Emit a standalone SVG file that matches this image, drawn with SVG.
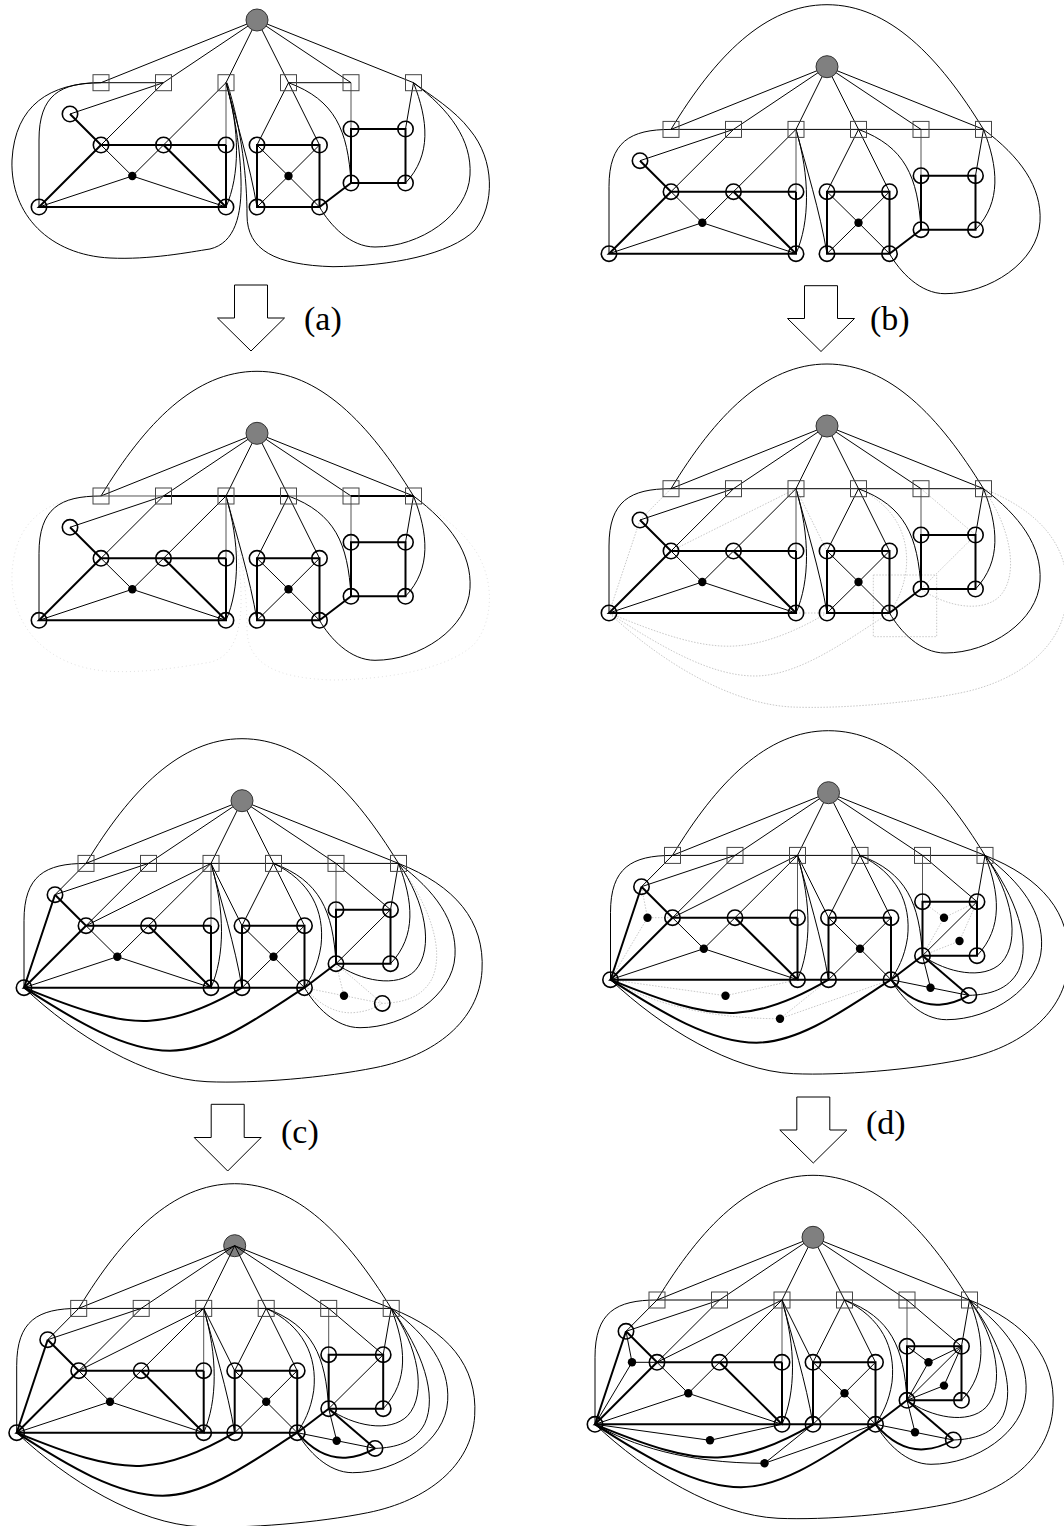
<svg xmlns="http://www.w3.org/2000/svg" xmlns:xlink="http://www.w3.org/1999/xlink" width="1064" height="1526" viewBox="0 0 1064 1526">
<style>
.t{stroke:#000;stroke-width:1;fill:none}
.k{stroke:#000;stroke-width:2;fill:none}
.gr{stroke:#555;stroke-width:1;fill:none}
.d{stroke:#c8c8c8;stroke-width:1;fill:none;stroke-dasharray:1.5 1.5}
.f{stroke:#e2e2e2;stroke-width:1;fill:none;stroke-dasharray:1 3}
.o{fill:none;stroke:#000;stroke-width:1.6}
.b{fill:#000;stroke:none}
.s{fill:none;stroke:#444;stroke-width:1}
.r{fill:#808080;stroke:#333;stroke-width:1}
.arw{fill:#fff;stroke:#000;stroke-width:1}
.lbl{font-family:"Liberation Serif","Times New Roman",serif;font-size:34px;fill:#000}
</style>
<defs>
<g id="eBt">
<path class="t" d="M257,20 L101,82.7 M257,20 L163.5,82.7 M257,20 L226,82.7 M257,20 L288.5,82.7 M257,20 L351,82.7 M257,20 L413.5,82.7"/>
<path class="t" d="M163.5,82.7 L70,114 M163.5,82.7 L101,145 M226,82.7 L163.5,145 M288.5,82.7 L257,145 M288.5,82.7 L319.5,145 M413.5,82.7 L405.5,129"/>
<path class="t" d="M226,82.7 C240,130 240,175 226,207"/>
<path class="t" d="M226,82.7 C236,120 250,165 257,207"/>
<path class="t" d="M288.5,82.7 C335,100 348,130 351,183"/>
<path class="t" d="M413.5,82.7 C428,120 432,155 405.5,183"/>
<path class="t" d="M413.5,82.7 C450,110 472,140 470,175 C468,215 420,247 375,247 C350,247 330,225 319.5,207"/>
<path class="t" d="M101,82.7 C60,82.7 39,95 39,140 L39,207"/>
<path class="t" d="M101,145 L132.3,176 L163.5,145 M39,207 L132.3,176 L226,207 M257,145 L288.5,176 L319.5,145 M257,207 L288.5,176 L319.5,207"/>
<path class="gr" d="M226,82.7 L226,145 M351,82.7 L351,129"/>
</g>
<g id="eBk">
<path class="k" d="M70,114 L101,145 L226,145 M101,145 L39,207 L226,207 L226,145 M163.5,145 L226,207"/>
<path class="k" d="M257,145 L319.5,145 L319.5,207 L257,207 Z M351,129 L405.5,129 L405.5,183 L351,183 Z M319.5,207 L351,183"/>
</g>
<path id="row" class="t" d="M101,82.7 L413.5,82.7"/>
<path id="arc" class="t" d="M101,82.7 C145,10 195,-42 257,-42 C319,-42 369,10 413.5,82.7"/>
<g id="loops">
<path d="M101,82.7 C50,83 15,105 12,160 C10,215 50,255 110,258 C150,260 190,252 210,249 C235,243 242,215 241,180 C240,140 232,105 226,82.7"/>
<path d="M227,82.7 C242,130 247,180 247,215 C247,250 275,265 333,266.7 C390,266 450,255 475,230 C495,205 495,160 470,130 C455,110 430,95 413.5,82.7"/>
</g>
<g id="e5t">
<path d="M70,114 L101,82.7 M226,82.7 L101,145 M226,82.7 L257,145 M351,82.7 L405.5,129 M405.5,129 L351,183"/>
<path d="M288.5,82.7 C325,100 340,130 336,165 C333,185 326,197 319.5,207"/>
<path d="M413.5,82.7 C440,120 450,168 430,190 C412,208 375,200 351,183"/>
<path d="M413.5,82.7 C470,105 500,140 497,190 C494,240 450,275 390,287 C340,297 270,303 222,301 C160,298 90,255 39,207"/>
</g>
<g id="e5k">
<path d="M70,114 L39,207 M226,207 L257,207"/>
<path d="M39,207 C90,228 130,242 165,240 C200,238 235,220 257,207"/>
<path d="M39,207 C90,240 140,270 185,270 C230,270 280,232 319.5,207"/>
</g>
<g id="e7t">
<path d="M351,183 L359,215 M319.5,207 L359,215 L397.3,222.7"/>
<path d="M413.5,82.7 C445,125 460,170 447,198 C437,217 418,222 397.3,222.7"/>
</g>
<g id="e7k">
<path d="M351,183 L397.3,222.7"/>
<path d="M319.5,207 C335,225 352,233 368,232 C382,231 390,227 397.3,222.7"/>
</g>
<g id="e8t">
<path d="M70,114 L76,145 L101,145 M39,207 L76,145"/>
<path d="M351,129 L372.5,145 L405.5,129 M372.5,145 L351,183 M351,183 L388,168.3 L405.5,129"/>
<path d="M39,207 L154,223 L226,207"/>
<path d="M39,207 C75,228 130,246 208.5,246 M208.5,246 L257,207 M208.5,246 L319.5,207"/>
</g>
</defs>
<rect width="1064" height="1526" fill="#fff"/>

<!-- Panel 1 -->
<g id="panel1" transform="translate(0,0)">
<g id="p1-connectors">
<use href="#eBt"/><use href="#eBk"/>
<path class="t" d="M101,82.7 L163.5,82.7 M288.5,82.7 L351,82.7"/>
<use href="#loops" class="t"/>
</g>
<g id="p1-nodes">
<g id="p1-R"><circle class="r" cx="257" cy="20" r="11"/></g>
<g id="p1-S1"><rect class="s" x="93" y="74.7" width="16" height="16"/></g>
<g id="p1-S2"><rect class="s" x="155.5" y="74.7" width="16" height="16"/></g>
<g id="p1-S3"><rect class="s" x="218" y="74.7" width="16" height="16"/></g>
<g id="p1-S4"><rect class="s" x="280.5" y="74.7" width="16" height="16"/></g>
<g id="p1-S5"><rect class="s" x="343" y="74.7" width="16" height="16"/></g>
<g id="p1-S6"><rect class="s" x="405.5" y="74.7" width="16" height="16"/></g>
<g id="p1-A"><circle class="o" cx="70" cy="114" r="7.7"/></g>
<g id="p1-B"><circle class="o" cx="101" cy="145" r="7.7"/></g>
<g id="p1-C"><circle class="o" cx="163.5" cy="145" r="7.7"/></g>
<g id="p1-D"><circle class="o" cx="226" cy="145" r="7.7"/></g>
<g id="p1-E"><circle class="o" cx="257" cy="145" r="7.7"/></g>
<g id="p1-F"><circle class="o" cx="319.5" cy="145" r="7.7"/></g>
<g id="p1-G"><circle class="o" cx="351" cy="129" r="7.7"/></g>
<g id="p1-H"><circle class="o" cx="405.5" cy="129" r="7.7"/></g>
<g id="p1-I"><circle class="o" cx="351" cy="183" r="7.7"/></g>
<g id="p1-J"><circle class="o" cx="405.5" cy="183" r="7.7"/></g>
<g id="p1-K"><circle class="o" cx="39" cy="207" r="7.7"/></g>
<g id="p1-L"><circle class="o" cx="226" cy="207" r="7.7"/></g>
<g id="p1-M"><circle class="o" cx="257" cy="207" r="7.7"/></g>
<g id="p1-N"><circle class="o" cx="319.5" cy="207" r="7.7"/></g>
<g id="p1-P1"><circle class="b" cx="132.3" cy="176" r="4.2"/></g>
<g id="p1-P2"><circle class="b" cx="288.5" cy="176" r="4.2"/></g>
</g>
</g>

<!-- Panel 2 -->
<g id="panel2" transform="translate(570,46.7)">
<g id="p2-connectors">
<use href="#eBt"/><use href="#eBk"/><use href="#row"/><use href="#arc"/>
</g>
<g id="p2-nodes">
<g id="p2-R"><circle class="r" cx="257" cy="20" r="11"/></g>
<g id="p2-S1"><rect class="s" x="93" y="74.7" width="16" height="16"/></g>
<g id="p2-S2"><rect class="s" x="155.5" y="74.7" width="16" height="16"/></g>
<g id="p2-S3"><rect class="s" x="218" y="74.7" width="16" height="16"/></g>
<g id="p2-S4"><rect class="s" x="280.5" y="74.7" width="16" height="16"/></g>
<g id="p2-S5"><rect class="s" x="343" y="74.7" width="16" height="16"/></g>
<g id="p2-S6"><rect class="s" x="405.5" y="74.7" width="16" height="16"/></g>
<g id="p2-A"><circle class="o" cx="70" cy="114" r="7.7"/></g>
<g id="p2-B"><circle class="o" cx="101" cy="145" r="7.7"/></g>
<g id="p2-C"><circle class="o" cx="163.5" cy="145" r="7.7"/></g>
<g id="p2-D"><circle class="o" cx="226" cy="145" r="7.7"/></g>
<g id="p2-E"><circle class="o" cx="257" cy="145" r="7.7"/></g>
<g id="p2-F"><circle class="o" cx="319.5" cy="145" r="7.7"/></g>
<g id="p2-G"><circle class="o" cx="351" cy="129" r="7.7"/></g>
<g id="p2-H"><circle class="o" cx="405.5" cy="129" r="7.7"/></g>
<g id="p2-I"><circle class="o" cx="351" cy="183" r="7.7"/></g>
<g id="p2-J"><circle class="o" cx="405.5" cy="183" r="7.7"/></g>
<g id="p2-K"><circle class="o" cx="39" cy="207" r="7.7"/></g>
<g id="p2-L"><circle class="o" cx="226" cy="207" r="7.7"/></g>
<g id="p2-M"><circle class="o" cx="257" cy="207" r="7.7"/></g>
<g id="p2-N"><circle class="o" cx="319.5" cy="207" r="7.7"/></g>
<g id="p2-P1"><circle class="b" cx="132.3" cy="176" r="4.2"/></g>
<g id="p2-P2"><circle class="b" cx="288.5" cy="176" r="4.2"/></g>
</g>
</g>

<!-- Panel 3 -->
<g id="panel3" transform="translate(0,413.3)">
<g id="p3-connectors">
<use href="#loops" class="f"/>
<use href="#eBt"/><use href="#eBk"/><use href="#arc"/>
<path class="gr" d="M101,82.7 L163.5,82.7 M288.5,82.7 L351,82.7"/>
<path class="k" d="M163.5,82.7 L288.5,82.7 M351,82.7 L413.5,82.7"/>
</g>
<g id="p3-nodes">
<g id="p3-R"><circle class="r" cx="257" cy="20" r="11"/></g>
<g id="p3-S1"><rect class="s" x="93" y="74.7" width="16" height="16"/></g>
<g id="p3-S2"><rect class="s" x="155.5" y="74.7" width="16" height="16"/></g>
<g id="p3-S3"><rect class="s" x="218" y="74.7" width="16" height="16"/></g>
<g id="p3-S4"><rect class="s" x="280.5" y="74.7" width="16" height="16"/></g>
<g id="p3-S5"><rect class="s" x="343" y="74.7" width="16" height="16"/></g>
<g id="p3-S6"><rect class="s" x="405.5" y="74.7" width="16" height="16"/></g>
<g id="p3-A"><circle class="o" cx="70" cy="114" r="7.7"/></g>
<g id="p3-B"><circle class="o" cx="101" cy="145" r="7.7"/></g>
<g id="p3-C"><circle class="o" cx="163.5" cy="145" r="7.7"/></g>
<g id="p3-D"><circle class="o" cx="226" cy="145" r="7.7"/></g>
<g id="p3-E"><circle class="o" cx="257" cy="145" r="7.7"/></g>
<g id="p3-F"><circle class="o" cx="319.5" cy="145" r="7.7"/></g>
<g id="p3-G"><circle class="o" cx="351" cy="129" r="7.7"/></g>
<g id="p3-H"><circle class="o" cx="405.5" cy="129" r="7.7"/></g>
<g id="p3-I"><circle class="o" cx="351" cy="183" r="7.7"/></g>
<g id="p3-J"><circle class="o" cx="405.5" cy="183" r="7.7"/></g>
<g id="p3-K"><circle class="o" cx="39" cy="207" r="7.7"/></g>
<g id="p3-L"><circle class="o" cx="226" cy="207" r="7.7"/></g>
<g id="p3-M"><circle class="o" cx="257" cy="207" r="7.7"/></g>
<g id="p3-N"><circle class="o" cx="319.5" cy="207" r="7.7"/></g>
<g id="p3-P1"><circle class="b" cx="132.3" cy="176" r="4.2"/></g>
<g id="p3-P2"><circle class="b" cx="288.5" cy="176" r="4.2"/></g>
</g>
</g>

<!-- Panel 4 -->
<g id="panel4" transform="translate(570,406)">
<g id="p4-connectors">
<use href="#e5t" class="d"/><use href="#e5k" class="d"/>
<rect class="d" x="303.3" y="169" width="63.4" height="61.7"/>
<use href="#eBt"/><use href="#eBk"/><use href="#row"/><use href="#arc"/>
</g>
<g id="p4-nodes">
<g id="p4-R"><circle class="r" cx="257" cy="20" r="11"/></g>
<g id="p4-S1"><rect class="s" x="93" y="74.7" width="16" height="16"/></g>
<g id="p4-S2"><rect class="s" x="155.5" y="74.7" width="16" height="16"/></g>
<g id="p4-S3"><rect class="s" x="218" y="74.7" width="16" height="16"/></g>
<g id="p4-S4"><rect class="s" x="280.5" y="74.7" width="16" height="16"/></g>
<g id="p4-S5"><rect class="s" x="343" y="74.7" width="16" height="16"/></g>
<g id="p4-S6"><rect class="s" x="405.5" y="74.7" width="16" height="16"/></g>
<g id="p4-A"><circle class="o" cx="70" cy="114" r="7.7"/></g>
<g id="p4-B"><circle class="o" cx="101" cy="145" r="7.7"/></g>
<g id="p4-C"><circle class="o" cx="163.5" cy="145" r="7.7"/></g>
<g id="p4-D"><circle class="o" cx="226" cy="145" r="7.7"/></g>
<g id="p4-E"><circle class="o" cx="257" cy="145" r="7.7"/></g>
<g id="p4-F"><circle class="o" cx="319.5" cy="145" r="7.7"/></g>
<g id="p4-G"><circle class="o" cx="351" cy="129" r="7.7"/></g>
<g id="p4-H"><circle class="o" cx="405.5" cy="129" r="7.7"/></g>
<g id="p4-I"><circle class="o" cx="351" cy="183" r="7.7"/></g>
<g id="p4-J"><circle class="o" cx="405.5" cy="183" r="7.7"/></g>
<g id="p4-K"><circle class="o" cx="39" cy="207" r="7.7"/></g>
<g id="p4-L"><circle class="o" cx="226" cy="207" r="7.7"/></g>
<g id="p4-M"><circle class="o" cx="257" cy="207" r="7.7"/></g>
<g id="p4-N"><circle class="o" cx="319.5" cy="207" r="7.7"/></g>
<g id="p4-P1"><circle class="b" cx="132.3" cy="176" r="4.2"/></g>
<g id="p4-P2"><circle class="b" cx="288.5" cy="176" r="4.2"/></g>
</g>
</g>

<!-- Panel 5 -->
<g id="panel5" transform="translate(-15,780.7)">
<g id="p5-connectors">
<use href="#e7t" class="d"/><use href="#e7k" class="d"/>
<use href="#eBt"/><use href="#eBk"/><use href="#row"/><use href="#arc"/>
<use href="#e5t" class="t"/><use href="#e5k" class="k"/>
</g>
<g id="p5-nodes">
<g id="p5-R"><circle class="r" cx="257" cy="20" r="11"/></g>
<g id="p5-S1"><rect class="s" x="93" y="74.7" width="16" height="16"/></g>
<g id="p5-S2"><rect class="s" x="155.5" y="74.7" width="16" height="16"/></g>
<g id="p5-S3"><rect class="s" x="218" y="74.7" width="16" height="16"/></g>
<g id="p5-S4"><rect class="s" x="280.5" y="74.7" width="16" height="16"/></g>
<g id="p5-S5"><rect class="s" x="343" y="74.7" width="16" height="16"/></g>
<g id="p5-S6"><rect class="s" x="405.5" y="74.7" width="16" height="16"/></g>
<g id="p5-A"><circle class="o" cx="70" cy="114" r="7.7"/></g>
<g id="p5-B"><circle class="o" cx="101" cy="145" r="7.7"/></g>
<g id="p5-C"><circle class="o" cx="163.5" cy="145" r="7.7"/></g>
<g id="p5-D"><circle class="o" cx="226" cy="145" r="7.7"/></g>
<g id="p5-E"><circle class="o" cx="257" cy="145" r="7.7"/></g>
<g id="p5-F"><circle class="o" cx="319.5" cy="145" r="7.7"/></g>
<g id="p5-G"><circle class="o" cx="351" cy="129" r="7.7"/></g>
<g id="p5-H"><circle class="o" cx="405.5" cy="129" r="7.7"/></g>
<g id="p5-I"><circle class="o" cx="351" cy="183" r="7.7"/></g>
<g id="p5-J"><circle class="o" cx="405.5" cy="183" r="7.7"/></g>
<g id="p5-K"><circle class="o" cx="39" cy="207" r="7.7"/></g>
<g id="p5-L"><circle class="o" cx="226" cy="207" r="7.7"/></g>
<g id="p5-M"><circle class="o" cx="257" cy="207" r="7.7"/></g>
<g id="p5-N"><circle class="o" cx="319.5" cy="207" r="7.7"/></g>
<g id="p5-P1"><circle class="b" cx="132.3" cy="176" r="4.2"/></g>
<g id="p5-P2"><circle class="b" cx="288.5" cy="176" r="4.2"/></g>
<g id="p5-X4"><circle class="b" cx="359" cy="215" r="4.2"/></g>
<g id="p5-Y"><circle class="o" cx="397.3" cy="222.7" r="7.7"/></g>
</g>
</g>

<!-- Panel 6 -->
<g id="panel6" transform="translate(571.5,772.7)">
<g id="p6-connectors">
<use href="#e8t" class="d"/>
<use href="#eBt"/><use href="#eBk"/><use href="#row"/><use href="#arc"/>
<use href="#e5t" class="t"/><use href="#e5k" class="k"/>
<use href="#e7t" class="t"/><use href="#e7k" class="k"/>
</g>
<g id="p6-nodes">
<g id="p6-R"><circle class="r" cx="257" cy="20" r="11"/></g>
<g id="p6-S1"><rect class="s" x="93" y="74.7" width="16" height="16"/></g>
<g id="p6-S2"><rect class="s" x="155.5" y="74.7" width="16" height="16"/></g>
<g id="p6-S3"><rect class="s" x="218" y="74.7" width="16" height="16"/></g>
<g id="p6-S4"><rect class="s" x="280.5" y="74.7" width="16" height="16"/></g>
<g id="p6-S5"><rect class="s" x="343" y="74.7" width="16" height="16"/></g>
<g id="p6-S6"><rect class="s" x="405.5" y="74.7" width="16" height="16"/></g>
<g id="p6-A"><circle class="o" cx="70" cy="114" r="7.7"/></g>
<g id="p6-B"><circle class="o" cx="101" cy="145" r="7.7"/></g>
<g id="p6-C"><circle class="o" cx="163.5" cy="145" r="7.7"/></g>
<g id="p6-D"><circle class="o" cx="226" cy="145" r="7.7"/></g>
<g id="p6-E"><circle class="o" cx="257" cy="145" r="7.7"/></g>
<g id="p6-F"><circle class="o" cx="319.5" cy="145" r="7.7"/></g>
<g id="p6-G"><circle class="o" cx="351" cy="129" r="7.7"/></g>
<g id="p6-H"><circle class="o" cx="405.5" cy="129" r="7.7"/></g>
<g id="p6-I"><circle class="o" cx="351" cy="183" r="7.7"/></g>
<g id="p6-J"><circle class="o" cx="405.5" cy="183" r="7.7"/></g>
<g id="p6-K"><circle class="o" cx="39" cy="207" r="7.7"/></g>
<g id="p6-L"><circle class="o" cx="226" cy="207" r="7.7"/></g>
<g id="p6-M"><circle class="o" cx="257" cy="207" r="7.7"/></g>
<g id="p6-N"><circle class="o" cx="319.5" cy="207" r="7.7"/></g>
<g id="p6-P1"><circle class="b" cx="132.3" cy="176" r="4.2"/></g>
<g id="p6-P2"><circle class="b" cx="288.5" cy="176" r="4.2"/></g>
<g id="p6-X1"><circle class="b" cx="76" cy="145" r="4.2"/></g>
<g id="p6-X2"><circle class="b" cx="372.5" cy="145" r="4.2"/></g>
<g id="p6-X3"><circle class="b" cx="388" cy="168.3" r="4.2"/></g>
<g id="p6-X4"><circle class="b" cx="359" cy="215" r="4.2"/></g>
<g id="p6-X5"><circle class="b" cx="154" cy="223" r="4.2"/></g>
<g id="p6-X6"><circle class="b" cx="208.5" cy="246" r="4.2"/></g>
<g id="p6-Y"><circle class="o" cx="397.3" cy="222.7" r="7.7"/></g>
</g>
</g>

<!-- Panel 7 -->
<g id="panel7" transform="translate(-22.3,1225.7)">
<g id="p7-R"><circle class="r" cx="257" cy="20" r="11"/></g>
<g id="p7-connectors">
<use href="#eBt"/><use href="#eBk"/><use href="#row"/><use href="#arc"/>
<use href="#e5t" class="t"/><use href="#e5k" class="k"/>
<use href="#e7t" class="t"/><use href="#e7k" class="k"/>
</g>
<g id="p7-nodes">
<g id="p7-S1"><rect class="s" x="93" y="74.7" width="16" height="16"/></g>
<g id="p7-S2"><rect class="s" x="155.5" y="74.7" width="16" height="16"/></g>
<g id="p7-S3"><rect class="s" x="218" y="74.7" width="16" height="16"/></g>
<g id="p7-S4"><rect class="s" x="280.5" y="74.7" width="16" height="16"/></g>
<g id="p7-S5"><rect class="s" x="343" y="74.7" width="16" height="16"/></g>
<g id="p7-S6"><rect class="s" x="405.5" y="74.7" width="16" height="16"/></g>
<g id="p7-A"><circle class="o" cx="70" cy="114" r="7.7"/></g>
<g id="p7-B"><circle class="o" cx="101" cy="145" r="7.7"/></g>
<g id="p7-C"><circle class="o" cx="163.5" cy="145" r="7.7"/></g>
<g id="p7-D"><circle class="o" cx="226" cy="145" r="7.7"/></g>
<g id="p7-E"><circle class="o" cx="257" cy="145" r="7.7"/></g>
<g id="p7-F"><circle class="o" cx="319.5" cy="145" r="7.7"/></g>
<g id="p7-G"><circle class="o" cx="351" cy="129" r="7.7"/></g>
<g id="p7-H"><circle class="o" cx="405.5" cy="129" r="7.7"/></g>
<g id="p7-I"><circle class="o" cx="351" cy="183" r="7.7"/></g>
<g id="p7-J"><circle class="o" cx="405.5" cy="183" r="7.7"/></g>
<g id="p7-K"><circle class="o" cx="39" cy="207" r="7.7"/></g>
<g id="p7-L"><circle class="o" cx="226" cy="207" r="7.7"/></g>
<g id="p7-M"><circle class="o" cx="257" cy="207" r="7.7"/></g>
<g id="p7-N"><circle class="o" cx="319.5" cy="207" r="7.7"/></g>
<g id="p7-P1"><circle class="b" cx="132.3" cy="176" r="4.2"/></g>
<g id="p7-P2"><circle class="b" cx="288.5" cy="176" r="4.2"/></g>
<g id="p7-X4"><circle class="b" cx="359" cy="215" r="4.2"/></g>
<g id="p7-Y"><circle class="o" cx="397.3" cy="222.7" r="7.7"/></g>
</g>
</g>

<!-- Panel 8 -->
<g id="panel8" transform="translate(556,1217.3)">
<g id="p8-connectors">
<use href="#eBt"/><use href="#eBk"/><use href="#row"/><use href="#arc"/>
<use href="#e5t" class="t"/><use href="#e5k" class="k"/>
<use href="#e7t" class="t"/><use href="#e7k" class="k"/>
<use href="#e8t" class="t"/>
</g>
<g id="p8-nodes">
<g id="p8-R"><circle class="r" cx="257" cy="20" r="11"/></g>
<g id="p8-S1"><rect class="s" x="93" y="74.7" width="16" height="16"/></g>
<g id="p8-S2"><rect class="s" x="155.5" y="74.7" width="16" height="16"/></g>
<g id="p8-S3"><rect class="s" x="218" y="74.7" width="16" height="16"/></g>
<g id="p8-S4"><rect class="s" x="280.5" y="74.7" width="16" height="16"/></g>
<g id="p8-S5"><rect class="s" x="343" y="74.7" width="16" height="16"/></g>
<g id="p8-S6"><rect class="s" x="405.5" y="74.7" width="16" height="16"/></g>
<g id="p8-A"><circle class="o" cx="70" cy="114" r="7.7"/></g>
<g id="p8-B"><circle class="o" cx="101" cy="145" r="7.7"/></g>
<g id="p8-C"><circle class="o" cx="163.5" cy="145" r="7.7"/></g>
<g id="p8-D"><circle class="o" cx="226" cy="145" r="7.7"/></g>
<g id="p8-E"><circle class="o" cx="257" cy="145" r="7.7"/></g>
<g id="p8-F"><circle class="o" cx="319.5" cy="145" r="7.7"/></g>
<g id="p8-G"><circle class="o" cx="351" cy="129" r="7.7"/></g>
<g id="p8-H"><circle class="o" cx="405.5" cy="129" r="7.7"/></g>
<g id="p8-I"><circle class="o" cx="351" cy="183" r="7.7"/></g>
<g id="p8-J"><circle class="o" cx="405.5" cy="183" r="7.7"/></g>
<g id="p8-K"><circle class="o" cx="39" cy="207" r="7.7"/></g>
<g id="p8-L"><circle class="o" cx="226" cy="207" r="7.7"/></g>
<g id="p8-M"><circle class="o" cx="257" cy="207" r="7.7"/></g>
<g id="p8-N"><circle class="o" cx="319.5" cy="207" r="7.7"/></g>
<g id="p8-P1"><circle class="b" cx="132.3" cy="176" r="4.2"/></g>
<g id="p8-P2"><circle class="b" cx="288.5" cy="176" r="4.2"/></g>
<g id="p8-X1"><circle class="b" cx="76" cy="145" r="4.2"/></g>
<g id="p8-X2"><circle class="b" cx="372.5" cy="145" r="4.2"/></g>
<g id="p8-X3"><circle class="b" cx="388" cy="168.3" r="4.2"/></g>
<g id="p8-X4"><circle class="b" cx="359" cy="215" r="4.2"/></g>
<g id="p8-X5"><circle class="b" cx="154" cy="223" r="4.2"/></g>
<g id="p8-X6"><circle class="b" cx="208.5" cy="246" r="4.2"/></g>
<g id="p8-Y"><circle class="o" cx="397.3" cy="222.7" r="7.7"/></g>
</g>
</g>

<!-- Transition arrows and labels -->
<g id="arrows">
<g id="arrow-a"><polygon class="arw" points="234.5,285 267.5,285 267.5,318 284.5,318 251,351 217.5,318 234.5,318"/><text class="lbl" x="304" y="330">(a)</text></g>
<g id="arrow-b"><polygon class="arw" points="804.5,285.7 837.5,285.7 837.5,318.5 854.5,318.5 821,351.5 787.5,318.5 804.5,318.5"/><text class="lbl" x="870" y="330">(b)</text></g>
<g id="arrow-c"><polygon class="arw" points="211.2,1104.3 244.2,1104.3 244.2,1137.5 261.2,1137.5 227.7,1171 194.2,1137.5 211.2,1137.5"/><text class="lbl" x="281" y="1143">(c)</text></g>
<g id="arrow-d"><polygon class="arw" points="796.8,1097 829.8,1097 829.8,1130 846.8,1130 813.3,1163 779.8,1130 796.8,1130"/><text class="lbl" x="866" y="1134">(d)</text></g>
</g>
</svg>
